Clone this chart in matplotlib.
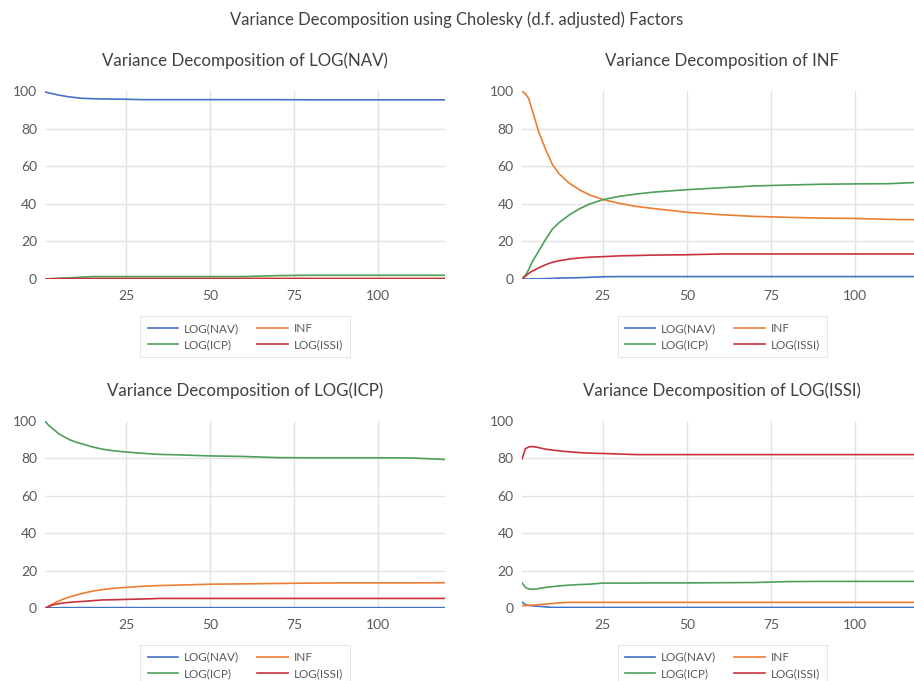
import matplotlib
matplotlib.use('Agg')
import matplotlib.pyplot as plt

plt.rcParams['font.family'] = ['Lato', 'DejaVu Sans']

periods = [1, 2, 3, 4, 5, 6, 8, 10, 12, 15, 18, 21, 25, 30, 35, 40, 50, 60, 70, 80, 90, 100, 110, 120]
names = ['LOG(NAV)', 'INF', 'LOG(ICP)', 'LOG(ISSI)']
colors = ['#4472C4', '#ED7D31', '#4E9F5A', '#C8323C']

# Variance Decomposition of LOG(NAV)
nav_nav = [99.5, 99.0, 98.6, 98.2, 97.8, 97.5, 96.9, 96.5, 96.1, 95.9, 95.8, 95.7, 95.6, 95.4, 95.4, 95.4, 95.4, 95.4, 95.4, 95.3, 95.3, 95.3, 95.3, 95.3]
nav_inf = [0.0, 0.1, 0.1, 0.2, 0.2, 0.2, 0.2, 0.3, 0.3, 0.3, 0.3, 0.3, 0.3, 0.3, 0.3, 0.3, 0.3, 0.3, 0.3, 0.3, 0.3, 0.3, 0.3, 0.3]
nav_icp = [0.0, 0.1, 0.2, 0.3, 0.4, 0.5, 0.6, 0.8, 1.0, 1.3, 1.3, 1.3, 1.3, 1.3, 1.3, 1.3, 1.3, 1.3, 1.8, 2.0, 2.0, 2.0, 2.0, 2.0]
nav_issi = [0.0, 0.1, 0.1, 0.1, 0.1, 0.2, 0.2, 0.2, 0.2, 0.2, 0.2, 0.2, 0.2, 0.2, 0.2, 0.2, 0.2, 0.2, 0.2, 0.2, 0.2, 0.2, 0.2, 0.2]

# Variance Decomposition of INF
inf_nav = [0.0, 0.0, 0.0, 0.1, 0.1, 0.1, 0.2, 0.3, 0.5, 0.6, 0.7, 0.9, 1.2, 1.3, 1.3, 1.3, 1.3, 1.3, 1.3, 1.3, 1.3, 1.3, 1.3, 1.3]
inf_inf = [100.0, 98.5, 96.0, 90.0, 84.0, 78.0, 69.0, 61.0, 56.0, 51.0, 47.5, 44.8, 42.3, 40.2, 38.6, 37.5, 35.5, 34.2, 33.3, 32.8, 32.4, 32.2, 31.7, 31.5]
inf_icp = [0.0, 2.0, 5.0, 9.0, 12.0, 15.0, 21.0, 26.5, 30.0, 34.0, 37.3, 39.8, 42.2, 44.0, 45.2, 46.2, 47.5, 48.5, 49.5, 50.0, 50.4, 50.6, 50.7, 51.5]
inf_issi = [0.0, 1.5, 3.0, 4.2, 5.0, 6.0, 7.6, 8.9, 9.7, 10.6, 11.2, 11.6, 11.9, 12.3, 12.5, 12.7, 12.9, 13.3, 13.3, 13.3, 13.3, 13.3, 13.3, 13.3]

# Variance Decomposition of LOG(ICP)
icp_nav = [0.0, 0.1, 0.1, 0.1, 0.1, 0.2, 0.2, 0.2, 0.2, 0.2, 0.2, 0.2, 0.2, 0.2, 0.2, 0.2, 0.2, 0.2, 0.2, 0.2, 0.2, 0.2, 0.2, 0.2]
icp_inf = [0.0, 1.0, 2.0, 2.9, 3.7, 4.5, 5.8, 6.8, 7.8, 9.0, 9.8, 10.5, 11.0, 11.6, 12.0, 12.2, 12.7, 12.9, 13.1, 13.3, 13.4, 13.4, 13.4, 13.5]
icp_icp = [99.5, 97.5, 96.0, 94.5, 93.0, 92.0, 90.0, 88.6, 87.6, 86.0, 84.8, 84.0, 83.3, 82.6, 82.0, 81.8, 81.2, 80.9, 80.3, 80.2, 80.2, 80.2, 80.1, 79.3]
icp_issi = [0.0, 0.8, 1.5, 2.0, 2.3, 2.6, 3.0, 3.3, 3.5, 3.9, 4.3, 4.4, 4.6, 4.8, 5.1, 5.1, 5.1, 5.1, 5.1, 5.1, 5.1, 5.1, 5.1, 5.1]

# Variance Decomposition of LOG(ISSI)
issi_nav = [3.2, 1.8, 1.4, 1.2, 1.0, 0.9, 0.6, 0.3, 0.3, 0.3, 0.3, 0.3, 0.3, 0.3, 0.3, 0.3, 0.3, 0.3, 0.3, 0.3, 0.3, 0.3, 0.3, 0.3]
issi_inf = [1.2, 1.3, 1.4, 1.5, 1.6, 1.8, 2.1, 2.4, 2.7, 3.0, 3.0, 3.0, 3.0, 3.0, 3.0, 3.0, 3.0, 3.0, 3.0, 3.0, 3.0, 3.0, 3.0, 3.0]
issi_icp = [13.5, 11.0, 10.2, 10.0, 10.1, 10.4, 11.0, 11.4, 11.8, 12.2, 12.5, 12.7, 13.3, 13.3, 13.3, 13.4, 13.4, 13.5, 13.6, 14.1, 14.2, 14.2, 14.2, 14.2]
issi_issi = [79.5, 85.0, 86.0, 86.2, 86.0, 85.6, 84.8, 84.3, 83.9, 83.4, 83.0, 82.7, 82.5, 82.2, 81.9, 81.9, 81.9, 81.9, 81.9, 81.9, 81.9, 81.9, 81.9, 81.9]

panels = [
    ('Variance Decomposition of LOG(NAV)', [nav_nav, nav_inf, nav_icp, nav_issi]),
    ('Variance Decomposition of INF', [inf_nav, inf_inf, inf_icp, inf_issi]),
    ('Variance Decomposition of LOG(ICP)', [icp_nav, icp_inf, icp_icp, icp_issi]),
    ('Variance Decomposition of LOG(ISSI)', [issi_nav, issi_inf, issi_icp, issi_issi]),
]

W, H = 914, 681
fig = plt.figure(figsize=(W / 100, H / 100), dpi=100)
fig.text(0.5, 1 - 20 / H, 'Variance Decomposition using Cholesky (d.f. adjusted) Factors',
         ha='center', va='center', fontsize=12, color='#404040')

# axes boxes in pixels: left, top, right, bottom
boxes = [(45.4, 91, 445, 279), (522, 91, 922.6, 279),
         (45.4, 420.7, 445, 608), (522, 420.7, 922.6, 608)]

for (title, series), (l, t, r, b) in zip(panels, boxes):
    ax = fig.add_axes([l / W, 1 - b / H, (r - l) / W, (b - t) / H])
    lines = []
    for s, name, c in zip(series, names, colors):
        ln, = ax.plot(periods, s, color=c, lw=1.2, label=name)
        lines.append(ln)
    ax.set_xlim(1, 120)
    ax.set_ylim(0, 100)
    ax.set_xticks([25, 50, 75, 100])
    ax.set_yticks([0, 20, 40, 60, 80, 100])
    ax.grid(True, color='#E3E3E3', lw=1)
    ax.set_axisbelow(True)
    gl = ax.get_ygridlines()
    gl[0].set_visible(False)
    gl[-1].set_visible(False)
    for sp in ax.spines.values():
        sp.set_visible(False)
    ax.tick_params(length=0, labelsize=10, colors='#595959')
    ax.tick_params(axis='x', pad=8)
    ax.tick_params(axis='y', pad=6)
    ax.set_title(title, fontsize=12.2, color='#404040', pad=18)
    # column-wise fill: NAV, ICP | INF, ISSI gives rows NAV INF / ICP ISSI
    order = [0, 2, 1, 3]
    leg = ax.legend([lines[i] for i in order], [names[i] for i in order],
                    loc='center', bbox_to_anchor=(0.5, -0.306), ncol=2, fontsize=8.5,
                    frameon=True, fancybox=False, handlelength=2.6, columnspacing=1.5,
                    handletextpad=0.5, labelspacing=0.45, borderpad=0.6, borderaxespad=0)
    leg.get_frame().set_edgecolor('#E0E0E0')
    leg.get_frame().set_linewidth(0.8)
    for txt in leg.get_texts():
        txt.set_color('#595959')

fig.savefig('out.png', dpi=100)
